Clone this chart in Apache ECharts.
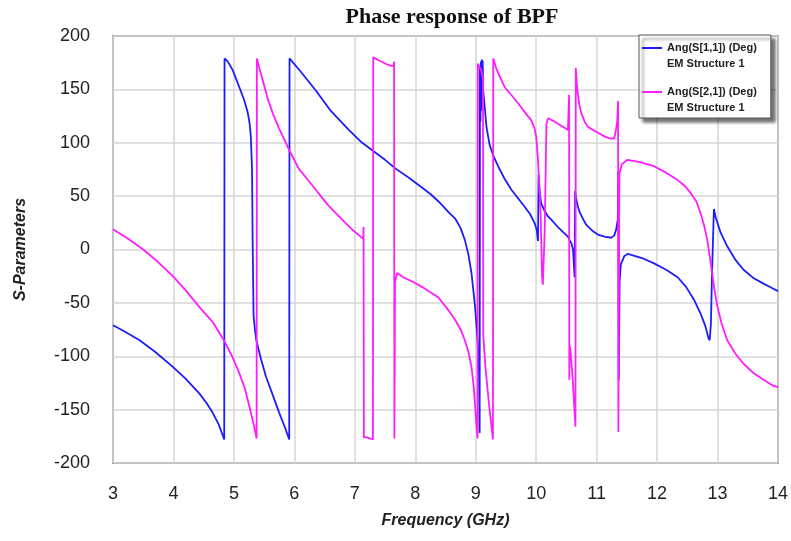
<!DOCTYPE html>
<html>
<head>
<meta charset="utf-8">
<title>Phase response of BPF</title>
<script src="https://cdn.jsdelivr.net/npm/echarts@6/dist/echarts.min.js"></script>
<style>
  html, body { margin: 0; padding: 0; background: #fff; }
  #chart { width: 791px; height: 541px; }
</style>
</head>
<body>
<div id="chart"></div>
<script>
// Ang(S[1,1]) - frequency (GHz) / phase (deg)
var s11Freq = [3.00, 3.20, 3.44, 3.70, 3.99, 4.20, 4.43, 4.55, 4.65, 4.75, 4.84,
  4.845, 4.90, 4.98, 5.09, 5.17, 5.23, 5.26, 5.28, 5.30, 5.31, 5.325, 5.35, 5.37, 5.45, 5.53, 5.64, 5.75, 5.84, 5.915,
  5.92, 6.10, 6.355, 6.60, 6.90, 7.10, 7.31, 7.50, 7.67, 7.90, 8.11, 8.25, 8.385, 8.55, 8.66, 8.75, 8.82, 8.88,
  8.93, 8.99, 9.03, 9.055, 9.065,
  9.07, 9.078, 9.085, 9.092, 9.10, 9.108, 9.115, 9.122, 9.13, 9.18, 9.23, 9.29, 9.37, 9.48, 9.59, 9.70, 9.81,
  9.90, 9.98, 10.01, 10.03,
  10.04, 10.06, 10.085, 10.14, 10.196, 10.28, 10.36, 10.45, 10.525, 10.58, 10.61, 10.635,
  10.645, 10.66, 10.69, 10.72, 10.78, 10.83, 10.94, 11.02, 11.13, 11.24, 11.29, 11.32, 11.35, 11.36, 11.365,
  11.38, 11.40, 11.46, 11.52, 11.57, 11.75, 11.95, 12.15, 12.34, 12.48, 12.61, 12.72, 12.80, 12.85, 12.87,
  12.89, 12.91, 12.94, 12.97, 13.05, 13.16, 13.30, 13.43, 13.60, 13.76, 13.90, 14.00];
var s11Deg = [-71, -77, -85, -96, -110, -121, -135, -144, -153, -164, -178,
  179, 176, 168, 152, 140, 128, 118, 106, 75, 9, -62, -76, -85, -103, -119, -136, -153, -166, -178,
  179, 167, 149, 130, 112, 101, 92, 84, 76, 67, 58, 52, 45, 35, 29, 20, 9, -5,
  -22, -54, -85, -116, -172,
  172, 120, 176, 130, 178, 140, 177, 150, 145, 114, 98, 88, 78, 66, 56, 48, 40,
  33, 24, 18, 8,
  70, 52, 43, 36, 31, 26, 21, 16, 12, 6, 0, -26,
  55, 48, 40, 35, 28, 23, 17, 14, 12, 11, 13, 18, 28, 73, -122,
  -30, -14, -6, -4, -5, -8, -13, -19, -26, -35, -47, -60, -72, -83, -85,
  -70, -20, 38, 30, 16, 3, -10, -19, -27, -32, -36, -39];

// Ang(S[2,1])
var s21Freq = [3.00, 3.25, 3.50, 3.75, 3.99, 4.20, 4.43, 4.65, 4.844, 4.97, 5.09, 5.18, 5.256, 5.32, 5.376,
  5.38, 5.42, 5.475, 5.55, 5.64, 5.75, 5.85, 5.915, 6.08, 6.20, 6.355, 6.55, 6.79, 6.95, 7.095, 7.14,
  7.145, 7.15, 7.20, 7.30, 7.305, 7.40, 7.51, 7.60, 7.64, 7.65, 7.655, 7.665, 7.70, 7.80, 7.95, 8.11,
  8.25, 8.385, 8.55, 8.66, 8.75, 8.82, 8.88, 8.93, 8.97, 8.99, 9.01, 9.03,
  9.035, 9.09, 9.12, 9.125, 9.16, 9.22, 9.285,
  9.29, 9.35, 9.48, 9.60, 9.70, 9.82, 9.92, 9.97, 10.00, 10.03, 10.075, 10.097, 10.11, 10.14, 10.17,
  10.196, 10.30, 10.47, 10.525, 10.545, 10.548, 10.552, 10.565, 10.60, 10.65,
  10.655, 10.68, 10.71, 10.745, 10.80, 10.855, 10.91, 11.00, 11.13, 11.22, 11.29, 11.32, 11.34, 11.355,
  11.36, 11.376, 11.42, 11.51, 11.70, 11.95, 12.15, 12.34, 12.45, 12.555, 12.65, 12.72, 12.78, 12.83,
  12.87, 12.91, 12.95, 13.00, 13.07, 13.16, 13.30, 13.43, 13.60, 13.76, 13.90, 14.00];
var s21Deg = [19, 10, 0, -12, -25, -38, -54, -68, -86, -100, -116, -130, -147, -162, -177,
  179, 170, 159, 143, 128, 113, 101, 93, 75, 67, 56, 42, 28, 19, 12, 10,
  21, -176, -176, -178, 180, 177, 174, 172, 172, 176, -177, -30, -22, -26, -30, -35,
  -40, -45, -57, -66, -75, -85, -96, -110, -130, -147, -163, -177,
  174, 168, 160, -80, -110, -145, -178,
  179, 168, 152, 144, 137, 128, 121, 114, 106, 84, 31, -25, -33, 15, 118,
  123, 120, 114, 112, 145, -122, -90, -93, -118, -166,
  170, 150, 137, 128, 120, 115, 113, 110, 106, 104, 104, 112, 120, 139,
  -171, 71, 80, 84, 82, 78, 72, 65, 60, 53, 45, 34, 22, 9,
  -6, -22, -38, -54, -70, -85, -98, -107, -116, -122, -127, -129];

var seriesNames = ['Ang(S[1,1]) (Deg)', 'Ang(S[2,1]) (Deg)'];
var seriesColors = ['#1c1cff', '#ff1cff'];
var xTicks = [3, 14, 1];
var yTicks = [-200, 200, 50];

function pairs(xs, ys) {
  var out = [];
  for (var i = 0; i < xs.length; i++) {
    out.push([xs[i], ys[i]]);
  }
  return out;
}

var myChart = echarts.init(document.getElementById('chart'));
var font = 'Liberation Sans, Arial, sans-serif';

var option = {
  animation: false,
  title: {
    text: 'Phase response of BPF',
    left: 447,
    top: 1,
    textAlign: 'center',
    textStyle: {
      fontFamily: 'Liberation Serif, Times New Roman, serif',
      fontWeight: 'bold',
      fontSize: 22,
      color: '#111'
    }
  },
  color: seriesColors,
  legend: {
    orient: 'vertical',
    left: 639,
    top: 35,
    padding: [5, 14, 2, 3],
    itemGap: 12,
    itemWidth: 20,
    itemHeight: 32,
    // line sits at the height of the first text line
    icon: 'path://M0,0h0.01v0.01h-0.01z M0,7h20v2h-20z M0,31.99h0.01v0.01h-0.01z',
    itemStyle: { borderWidth: 0 },
    backgroundColor: '#fff',
    borderColor: '#555',
    borderWidth: 1,
    shadowColor: 'rgba(0,0,0,0.55)',
    shadowBlur: 3,
    shadowOffsetX: 4,
    shadowOffsetY: 4,
    data: seriesNames,
    formatter: function (name) {
      return name + '\nEM Structure 1';
    },
    textStyle: {
      fontFamily: font,
      fontWeight: 'bold',
      fontSize: 11,
      lineHeight: 16,
      color: '#222'
    }
  },
  grid: {
    left: 113,
    right: 10,
    top: 36,
    bottom: 78,
    show: true,
    borderColor: '#8c8c8c',
    borderWidth: 2
  },
  xAxis: {
    type: 'value',
    min: xTicks[0],
    max: xTicks[1],
    interval: xTicks[2],
    name: 'Frequency (GHz)',
    nameLocation: 'middle',
    nameGap: 50,
    nameTextStyle: {
      fontFamily: font,
      fontWeight: 'bold',
      fontStyle: 'italic',
      fontSize: 16,
      color: '#222'
    },
    axisLine: { show: false },
    axisTick: { show: false },
    axisLabel: { margin: 22, fontFamily: font, fontSize: 18, color: '#222' },
    splitLine: { lineStyle: { color: '#d6d6d6', width: 1.5 } }
  },
  yAxis: {
    type: 'value',
    min: yTicks[0],
    max: yTicks[1],
    interval: yTicks[2],
    name: 'S-Parameters',
    nameLocation: 'middle',
    nameGap: 84,
    nameTextStyle: {
      fontFamily: font,
      fontWeight: 'bold',
      fontStyle: 'italic',
      fontSize: 16,
      color: '#222'
    },
    axisLine: { show: false },
    axisTick: { show: false },
    axisLabel: { margin: 23, fontFamily: font, fontSize: 18, color: '#222' },
    splitLine: { lineStyle: { color: '#d6d6d6', width: 1.5 } }
  },
  series: [
    {
      name: seriesNames[0],
      type: 'line',
      showSymbol: false,
      symbol: 'none',
      lineStyle: { width: 1.8 },
      data: pairs(s11Freq, s11Deg)
    },
    {
      name: seriesNames[1],
      type: 'line',
      showSymbol: false,
      symbol: 'none',
      lineStyle: { width: 1.8 },
      data: pairs(s21Freq, s21Deg)
    }
  ]
};
myChart.setOption(option);
</script>
</body>
</html>
